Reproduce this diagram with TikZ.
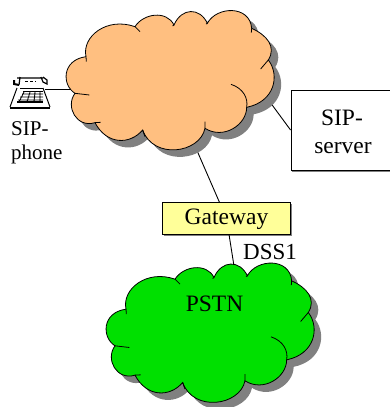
\documentclass[tikz,border=0pt]{standalone}
\usepackage{fontspec}
\setmainfont{Liberation Serif}
\usetikzlibrary{positioning,shapes}

\definecolor{cloudorange}{HTML}{FFBF80}
\definecolor{cloudgreen}{HTML}{00E000}
\definecolor{gatewayyellow}{HTML}{FFFF99}
\definecolor{shadowgray}{HTML}{808080}

\tikzset{
  label/.style={font=\fontsize{#1}{26}\selectfont,inner sep=0pt},
  link/.style={line width=0.9pt},
  shadowbox/.style={draw,line width=0.9pt,inner sep=0pt}
}

% outline of one cloud, lobe by lobe
\newcommand{\cloudoutline}{
  (108,170) .. controls (95,110) and (170,50) .. (255,80)
  .. controls (280,40) and (350,30) .. (372,75)
  .. controls (395,22) and (450,22) .. (472,70)
  .. controls (500,18) and (600,15) .. (605,85)
  .. controls (650,105) and (680,140) .. (655,180)
  .. controls (690,225) and (675,305) .. (590,322)
  .. controls (590,375) and (520,420) .. (465,385)
  .. controls (450,460) and (310,480) .. (278,390)
  .. controls (240,435) and (170,435) .. (135,368)
  .. controls (80,385) and (45,320) .. (75,280)
  .. controls (35,255) and (35,180) .. (108,170) -- cycle
}
\newcommand{\cloudlines}{
  (255,80) -- (270,95)
  (372,75) -- (368,78)
  (472,70) -- (468,72)
  (605,85) -- (604,98)
  (655,180) -- (632,207)
  (543,253) .. controls (580,265) and (595,295) .. (590,322)
  (465,385) -- (465,365)
  (278,390) -- (285,410)
  (135,368) -- (152,367)
  (75,280) -- (118,285)
  (108,170) -- (109,185)
}
\newcommand{\drawcloud}[3]{% x, y, fill colour
  \begin{scope}[shift={(#1,#2)},x=0.3333pt,y=-0.3333pt]
    \fill[shadowgray,shift={(21,21)}] \cloudoutline;
    \filldraw[fill=#3,draw=black,line width=0.8pt] \cloudoutline;
    \draw[line width=0.8pt] \cloudlines;
  \end{scope}
}

\begin{document}
\begin{tikzpicture}[x=1pt,y=-1pt]
  \useasboundingbox (0,0) rectangle (390,407);

  \coordinate (sipcloudw) at (76,89);
  \coordinate (sipclouds) at (195,146);
  \coordinate (sipcloude) at (267,98);
  \coordinate (pstncloudn) at (234,266);
  \coordinate (phone) at (45,89);

  % thin shadow edges of the two boxes
  \draw[shadowgray,line width=1pt] (163.5,235) -- (291.5,235) -- (291.5,204);
  \draw[shadowgray,line width=1pt] (291.5,171) -- (390,171);

  \node[shadowbox,minimum width=104pt,minimum height=80pt,fill=white] (server) at (343,130) {};
  \node[shadowbox,minimum width=128pt,minimum height=31.5pt,fill=gatewayyellow] (gateway) at (226.5,218.5) {};

  \draw[link] (phone) -- (sipcloudw);
  \draw[link] (sipclouds) -- (gateway);
  \draw[link] (gateway) -- (pstncloudn);
  \draw[link] (sipcloude) -- (server.west);

  \drawcloud{50}{0}{cloudorange}
  \drawcloud{90}{252.5}{cloudgreen}

  % telephone
  \fill (10,106.5) rectangle (50,108.5);
  \draw[line width=1pt] (17,88) -- (10,107) (43,88) -- (50,107);
  \draw[line width=1.2pt] (17,78) -- (43,78)
    (20,77) -- (19,85) (41,77) -- (43,82) -- (47,84) -- (47,80) -- (43,77);
  \draw[line width=2pt] (14,80) -- (14,84) -- (19,85);
  \draw[line width=0.8pt] (43,88) -- (20,88);
  \draw[densely dashed,line width=0.8pt] (25,81) -- (36,81);
  \draw[line width=1.2pt] (23,91.5) -- (43,91.5) (17,102) -- (43,102);
  \draw[line width=0.8pt] (22,94) -- (43,94) (20,97) -- (43,97) (18,100) -- (43,100)
    (24,92) -- (19,102) (30,92) -- (27,102) (35,92) -- (34,102) (40,92) -- (40,102);

  \node[label=23.5] (gatewaytext) at (226.5,219) {Gateway};
  \node[label=23,anchor=base] (dss) at (270,259) {DSS1};
  \node[label=23.5,anchor=base] (pstn) at (214.5,311) {PSTN};
  \node[label=23.5,anchor=base] (sip) at (342,125) {SIP-};
  \node[label=23.5,anchor=base] (srv) at (343,153) {server};
  \node[label=21,anchor=base west] (sipa) at (11,135) {SIP-};
  \node[label=21,anchor=base west] (sipb) at (11,159) {phone};
\end{tikzpicture}
\end{document}
